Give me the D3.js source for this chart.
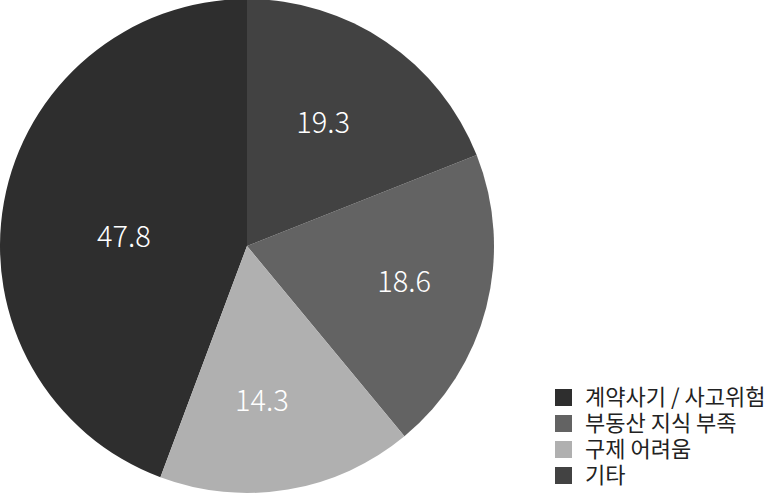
<!DOCTYPE html>
<html>
<head>
<meta charset="utf-8">
<script src="https://cdn.jsdelivr.net/npm/d3@7"></script>
<style>
  html, body { margin: 0; padding: 0; background: #ffffff; }
  svg { display: block; }
</style>
</head>
<body>
<svg id="chart" width="769" height="496"></svg>
<script>
// Data
const categories = ["계약사기 / 사고위험", "부동산 지식 부족", "구제 어려움", "기타"];
const labels = [47.8, 18.6, 14.3, 19.3];          // printed numbers
const shares = [44.3, 20.0, 16.7, 19.0];          // slice sizes as drawn in the picture
const colors = ["#2e2e2e", "#636363", "#b0b0b0", "#424242"];
// clockwise drawing order from 12 o'clock
const drawOrder = ["기타", "부동산 지식 부족", "구제 어려움", "계약사기 / 사고위험"];
// label placement (layout): distance as fraction of radius, angular nudge in degrees
const labelRadius = [0.5, 0.652, 0.627, 0.587];
const labelNudge = [-6, -1.8, 4, -2.5];

const svg = d3.select("#chart");
const cx = 247, cy = 246, R = 247;

const data = categories.map((c, i) => ({
  name: c, label: labels[i], share: shares[i], color: colors[i],
  lr: labelRadius[i], ln: labelNudge[i]
}));

const pie = d3.pie()
  .value(d => d.share)
  .sort((a, b) => drawOrder.indexOf(a.name) - drawOrder.indexOf(b.name));

const arcs = pie(data);
const arc = d3.arc().innerRadius(0).outerRadius(R);

const g = svg.append("g").attr("transform", `translate(${cx},${cy})`);

g.selectAll("path.slice")
  .data(arcs)
  .join("path")
  .attr("class", "slice")
  .attr("d", arc)
  .attr("fill", d => d.data.color);

g.selectAll("text.lbl")
  .data(arcs)
  .join("text")
  .attr("class", "lbl")
  .attr("transform", d => {
    const a = (d.startAngle + d.endAngle) / 2 + d.data.ln * Math.PI / 180;
    const r = R * d.data.lr;
    return `translate(${r * Math.sin(a)},${-r * Math.cos(a)})`;
  })
  .attr("text-anchor", "middle")
  .attr("dy", "0.36em")
  .attr("fill", "#ffffff")
  .style("font-family", "'Noto Sans CJK KR', 'Noto Sans', sans-serif")
  .style("font-weight", 300)
  .style("font-size", "29px")
  .text(d => d.data.label.toFixed(1));

// Legend
const legend = svg.append("g").attr("transform", "translate(555,389)");
const rowH = 26;
const items = legend.selectAll("g.item")
  .data(data)
  .join("g")
  .attr("class", "item")
  .attr("transform", (d, i) => `translate(0,${i * rowH})`);

items.append("rect")
  .attr("width", 17)
  .attr("height", 17)
  .attr("fill", d => d.color);

items.append("text")
  .attr("x", 30)
  .attr("y", 8.5)
  .attr("dy", "0.36em")
  .attr("fill", "#222")
  .style("font-family", "'Noto Sans CJK KR', sans-serif")
  .style("font-size", "22px")
  .text(d => d.name);
</script>
</body>
</html>
